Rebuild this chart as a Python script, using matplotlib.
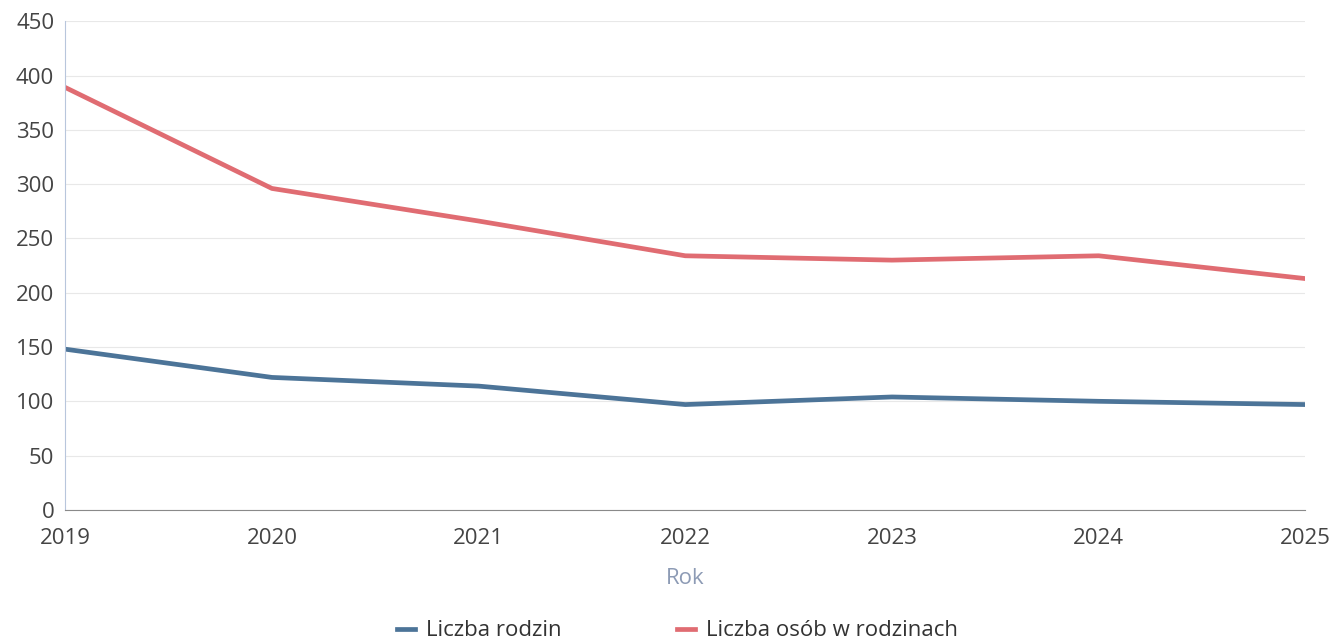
import matplotlib.pyplot as plt

plt.rcParams['font.family'] = ['Open Sans', 'DejaVu Sans']

years = [2019, 2020, 2021, 2022, 2023, 2024, 2025]
rodziny = [148, 122, 114, 97, 104, 100, 97]
osoby = [389, 296, 266, 234, 230, 234, 213]
y_ticks = [0, 50, 100, 150, 200, 250, 300, 350, 400, 450]

fig = plt.figure(figsize=(13.32, 6.43), dpi=100)
ax = fig.add_axes([0.049, 0.207, 0.931, 0.76])

ax.plot(years, rodziny, color='#4c7498', lw=3.4, label='Liczba rodzin')
ax.plot(years, osoby, color='#e06c72', lw=3.4, label='Liczba osób w rodzinach')

ax.set_xlim(2019, 2025)
ax.set_ylim(0, 450)
ax.set_yticks(y_ticks)
ax.set_xticks(years)
ax.grid(axis='y', color='#e8e8e8', lw=0.8)
ax.set_axisbelow(True)

for s in ['top', 'right']:
    ax.spines[s].set_visible(False)
ax.spines['left'].set_color('#b8c6dc')
ax.spines['bottom'].set_color('#8a8a8a')
ax.spines['bottom'].set_linewidth(0.8)

ax.tick_params(axis='both', length=0, labelsize=16, colors='#444444')
ax.tick_params(axis='y', pad=8)
ax.tick_params(axis='x', pad=13)

ax.set_xlabel('Rok', fontsize=16, color='#8d9bb5', labelpad=14)

ax.legend(loc='upper center', bbox_to_anchor=(0.494, -0.185), ncol=2, frameon=False,
          fontsize=16, handlelength=0.8, handletextpad=0.5, columnspacing=5.2,
          labelcolor='#333333')

fig.savefig('out.png', dpi=100)
